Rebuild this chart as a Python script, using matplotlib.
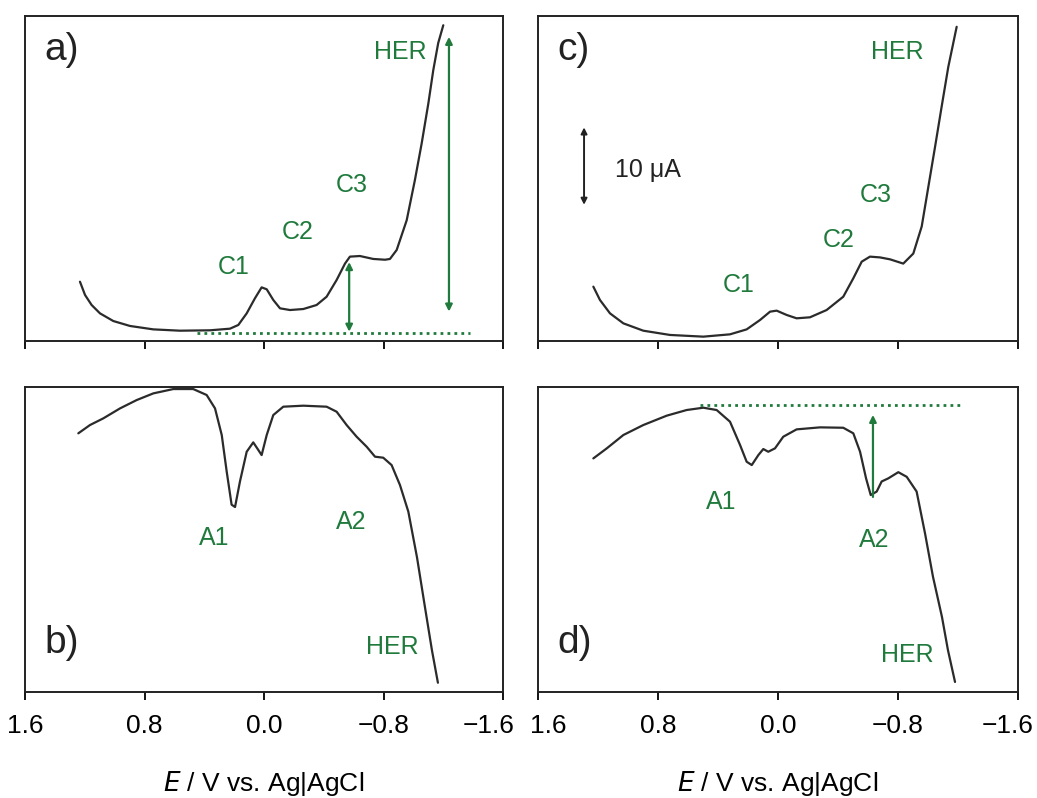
import numpy as np
import matplotlib
matplotlib.use('Agg')
import matplotlib.pyplot as plt
import matplotlib.transforms as mtransforms

plt.rcParams['font.family'] = ['Liberation Sans', 'DejaVu Sans']

# potentials in V vs Ag|AgCl, currents in uA
E_a = [1.232, 1.198, 1.154, 1.098, 1.009, 0.897, 0.741, 0.563, 0.362, 0.228, 0.172, 0.116,
       0.061, 0.016, -0.018, -0.062, -0.107, -0.174, -0.263, -0.352, -0.419, -0.486, -0.542,
       -0.575, -0.642, -0.731, -0.81, -0.843, -0.888, -0.955, -1.01, -1.055, -1.1, -1.133,
       -1.166, -1.2]
I_a = [7.66, 5.94, 4.65, 3.57, 2.58, 1.94, 1.5, 1.33, 1.38, 1.59, 2.07, 3.57,
       5.51, 6.93, 6.68, 5.3, 4.22, 4.0, 4.13, 4.65, 5.72, 7.88, 10.0,
       10.9, 10.98, 10.6, 10.5, 10.6, 11.76, 15.6, 20.8, 25.5, 30.7, 35.0,
       38.5, 40.8]

E_b = [1.243, 1.165, 1.076, 0.964, 0.852, 0.741, 0.607, 0.474, 0.384, 0.328, 0.283, 0.25,
       0.217, 0.194, 0.161, 0.116, 0.072, 0.038, 0.016, -0.018, -0.062, -0.129, -0.263,
       -0.419, -0.486, -0.553, -0.62, -0.687, -0.743, -0.798, -0.854, -0.91, -0.966,
       -1.024, -1.077, -1.124, -1.164]
I_b = [-5.98, -4.91, -4.05, -2.76, -1.68, -0.82, -0.26, -0.26, -1.03, -2.76, -6.2, -10.9,
       -15.2, -15.5, -12.2, -8.36, -7.15, -8.14, -8.79, -6.2, -3.62, -2.54, -2.41,
       -2.54, -3.19, -4.91, -6.42, -7.71, -9.0, -9.13, -10.08, -12.66, -16.1,
       -22.0, -28.4, -34.0, -38.2]

E_c = [1.231, 1.187, 1.12, 1.031, 0.898, 0.72, 0.498, 0.32, 0.209, 0.12, 0.053, 0.009,
       -0.058, -0.124, -0.213, -0.324, -0.435, -0.502, -0.558, -0.613, -0.68, -0.747,
       -0.835, -0.902, -0.958, -1.002, -1.047, -1.091, -1.135, -1.191]
I_c = [7.02, 5.3, 3.57, 2.28, 1.33, 0.78, 0.56, 0.86, 1.5, 2.71, 3.79, 3.92,
       3.36, 2.93, 3.06, 4.0, 5.72, 8.1, 10.25, 10.9, 10.8, 10.55,
       10.0, 11.3, 14.8, 19.9, 25.1, 30.3, 35.4, 40.6]

E_d = [1.231, 1.142, 1.031, 0.898, 0.742, 0.609, 0.498, 0.409, 0.32, 0.253, 0.209, 0.175,
       0.131, 0.098, 0.065, 0.02, -0.035, -0.124, -0.28, -0.435, -0.502, -0.547, -0.587,
       -0.618, -0.658, -0.691, -0.735, -0.802, -0.858, -0.924, -0.98, -1.033, -1.093,
       -1.133, -1.18]
I_d = [-9.22, -7.93, -6.2, -4.91, -3.7, -2.97, -2.67, -2.97, -4.48, -7.49, -9.65, -10.08,
       -8.79, -8.01, -8.36, -7.92, -6.42, -5.47, -5.21, -5.26, -5.98, -8.36, -11.8,
       -13.95, -13.5, -12.2, -11.8, -11.0, -11.6, -13.5, -18.9, -24.5, -29.7,
       -34.0, -38.1]

xticks = [1.6, 0.8, 0.0, -0.8, -1.6]
xticklabels = ['1.6', '0.8', '0.0', '\u22120.8', '\u22121.6']

green = '#1f7a3c'
curve = '#2b2b2b'

fig = plt.figure(figsize=(10.37, 7.98), dpi=100)
ax_a = fig.add_axes([0.0241, 0.5727, 0.461, 0.4073])
ax_b = fig.add_axes([0.0241, 0.1328, 0.461, 0.3822])
ax_c = fig.add_axes([0.5188, 0.5727, 0.4629, 0.4073])
ax_d = fig.add_axes([0.5188, 0.1328, 0.4629, 0.3822])

for ax, E, I in [(ax_a, E_a, I_a), (ax_b, E_b, I_b), (ax_c, E_c, I_c), (ax_d, E_d, I_d)]:
    ax.plot(E, I, color=curve, lw=1.6, solid_joinstyle='round', solid_capstyle='round')
    ax.set_xlim(1.6, -1.6)
    ax.set_xticks(xticks)
    ax.set_yticks([])
    ax.tick_params(axis='x', direction='out', length=6, width=1.3, pad=10, labelsize=19)
    for s in ax.spines.values():
        s.set_linewidth(1.4)
        s.set_color('#222222')

ax_a.set_ylim(0, 42)
ax_c.set_ylim(0, 42)
ax_b.set_ylim(-39.4, 0)
ax_d.set_ylim(-39.4, 0)

for ax in (ax_a, ax_c):
    ax.set_xticklabels([])
for ax in (ax_b, ax_d):
    ax.set_xticklabels(xticklabels)
    ax.set_xlabel('$\\mathit{E}$ / V vs. Ag|AgCl', fontsize=19, labelpad=22)

# nudge the edge tick labels inward so they do not collide
def nudge(label, dx_px):
    label.set_transform(label.get_transform() +
                        mtransforms.ScaledTranslation(dx_px / 100, 0, fig.dpi_scale_trans))

nudge(ax_b.get_xticklabels()[-1], -14)
nudge(ax_d.get_xticklabels()[0], 10)
nudge(ax_d.get_xticklabels()[-1], -10)

# panel letters
for ax, lab, y in [(ax_a, 'a)', 0.895), (ax_c, 'c)', 0.895), (ax_b, 'b)', 0.16), (ax_d, 'd)', 0.16)]:
    ax.text(0.04, y, lab, transform=ax.transAxes, fontsize=28, color='#222222',
            ha='left', va='center')

def lab(ax, x, y, s):
    ax.text(x, y, s, color=green, fontsize=18, ha='center', va='center')

# a)
lab(ax_a, -0.91, 37.3, 'HER')
lab(ax_a, -0.589, 20.2, 'C3')
lab(ax_a, -0.224, 14.1, 'C2')
lab(ax_a, 0.201, 9.6, 'C1')
ax_a.plot([0.449, -1.38], [1.0, 1.0], color=green, lw=2, ls=(0, (1, 1.5)))
arr = dict(arrowstyle='<|-|>', color=green, lw=1.6, mutation_scale=10, shrinkA=0, shrinkB=0)
ax_a.annotate('', xy=(-0.57, 10.2), xytext=(-0.57, 1.2), arrowprops=arr)
ax_a.annotate('', xy=(-1.238, 39.3), xytext=(-1.238, 3.8), arrowprops=arr)

# c)
lab(ax_c, -0.797, 37.3, 'HER')
lab(ax_c, -0.653, 18.9, 'C3')
lab(ax_c, -0.407, 13.0, 'C2')
lab(ax_c, 0.26, 7.2, 'C1')
ax_c.annotate('', xy=(1.293, 27.6), xytext=(1.293, 17.6),
              arrowprops=dict(arrowstyle='<|-|>', color='#222222', lw=1.4,
                              mutation_scale=9, shrinkA=0, shrinkB=0))
ax_c.text(1.087, 22.1, '10 \u03bcA', fontsize=18, color='#222222', ha='left', va='center')

# b)
lab(ax_b, 0.335, -19.5, 'A1')
lab(ax_b, -0.582, -17.4, 'A2')
lab(ax_b, -0.857, -33.6, 'HER')

# d)
lab(ax_d, 0.38, -14.9, 'A1')
lab(ax_d, -0.64, -19.8, 'A2')
lab(ax_d, -0.86, -34.6, 'HER')
ax_d.plot([0.52, -1.233], [-2.3, -2.3], color=green, lw=2, ls=(0, (1, 1.5)))
ax_d.annotate('', xy=(-0.633, -3.6), xytext=(-0.633, -14.2),
              arrowprops=dict(arrowstyle='-|>', color=green, lw=1.6, mutation_scale=10,
                              shrinkA=0, shrinkB=0))

fig.savefig('out.png', dpi=100)
